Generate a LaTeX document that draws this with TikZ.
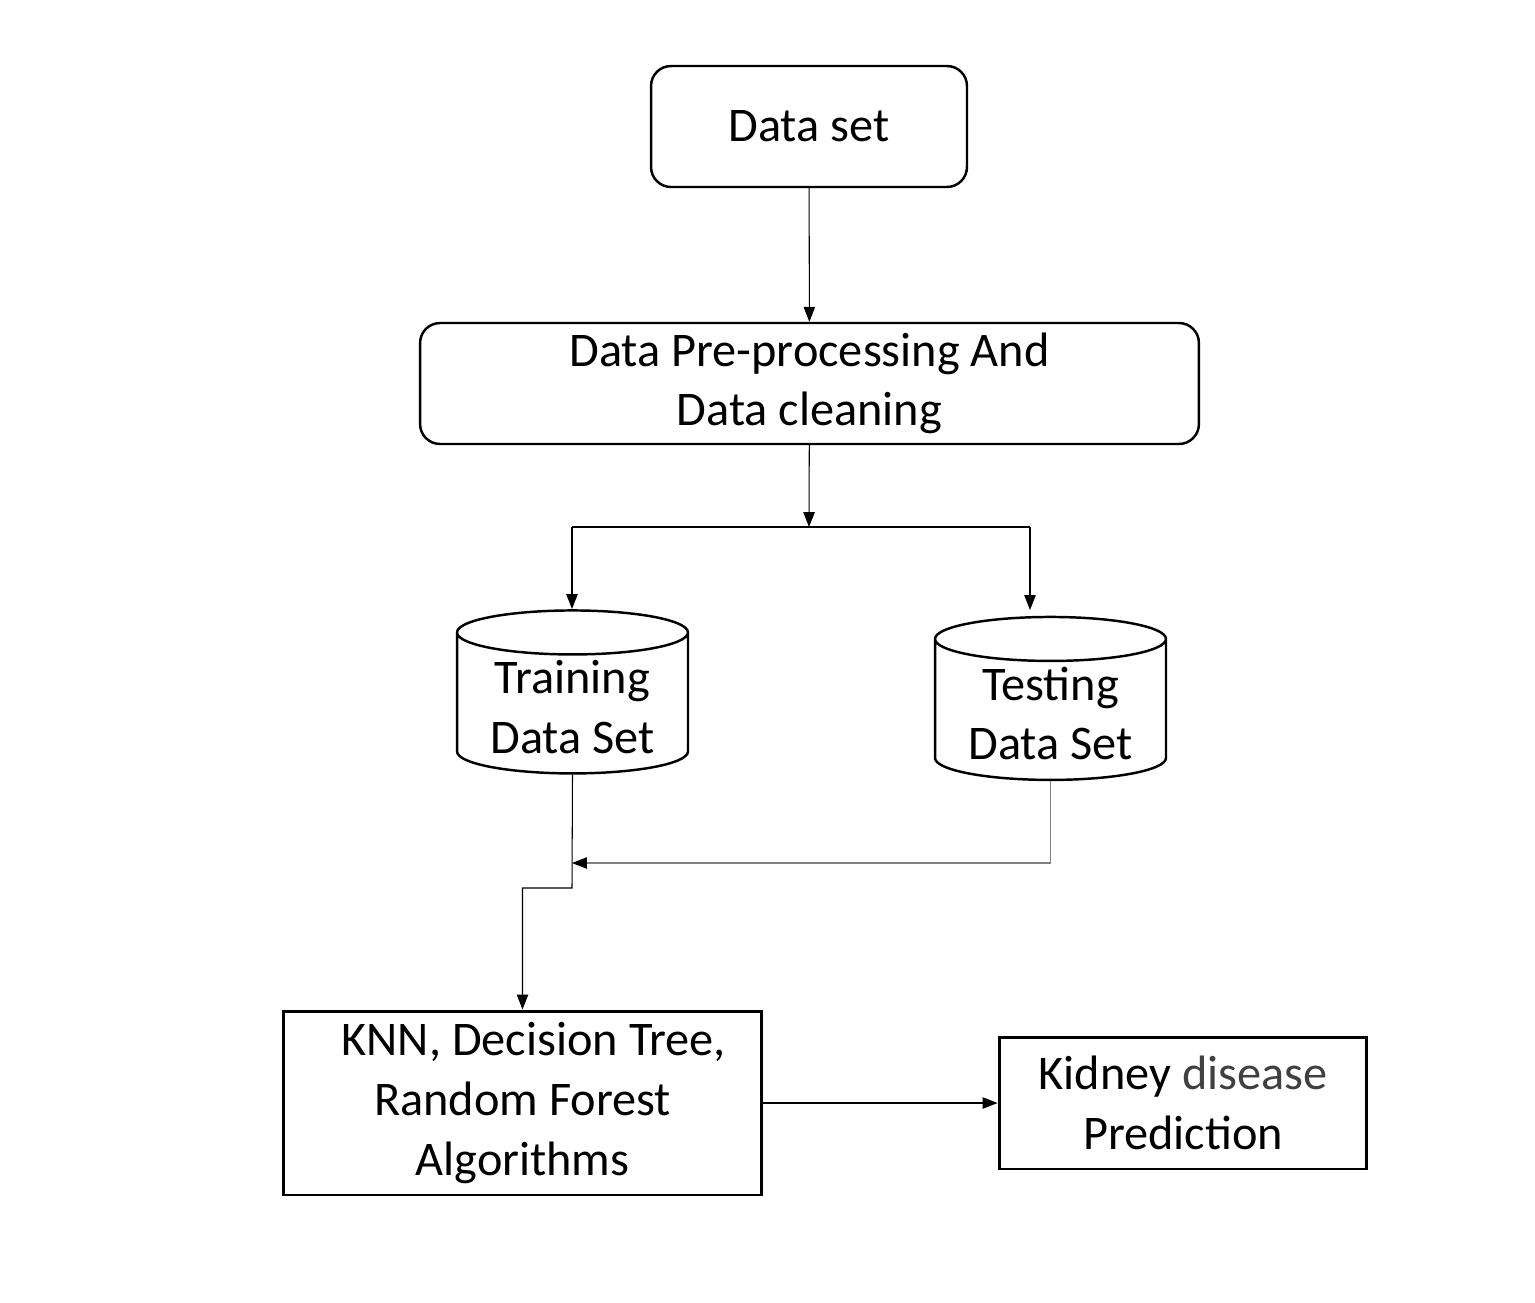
\documentclass[tikz,border=0pt]{standalone}
\usepackage{fontspec}
\setmainfont{Carlito}
\usetikzlibrary{shapes.geometric,arrows.meta}
\definecolor{softblack}{HTML}{404040}
\begin{document}
\begin{tikzpicture}[x=0.02cm,y=-0.02cm,
  font=\fontsize{27.5}{34}\selectfont,
  roundbox/.style={draw,line width=1.4pt,rounded corners=0.4cm,align=center},
  plainbox/.style={draw,line width=1.7pt,align=center},
  datastore/.style={draw,line width=1.4pt,cylinder,shape border rotate=90,aspect=0.25,
    inner ysep=0pt,minimum width=4.62cm,minimum height=3.26cm,align=center},
  conn/.style={line width=0.6pt,-{Triangle[length=8.5pt,width=6.5pt]}},
  grayconn/.style={line width=0.6pt,gray,-{Triangle[length=8.5pt,width=6.5pt,black]}}]
\useasboundingbox (0,0) rectangle (1535,1302);
\node[roundbox,minimum width=6.32cm,minimum height=2.42cm] (dataset) at (809,126.5) {Data set};
\node[roundbox,minimum width=15.58cm,minimum height=2.42cm] (prep) at (809.5,383.5) {Data Pre-processing And\\Data cleaning};
\node[datastore] (train) at (572.5,707) {Training\\Data Set};
\node[datastore] (test) at (1050.5,713.5) {Testing\\Data Set};
\node[plainbox,minimum width=9.58cm,minimum height=3.68cm] (algo) at (522.5,1103) {\hspace*{0.45cm}KNN, Decision Tree,\\Random Forest\\Algorithms};
\node[plainbox,minimum width=7.36cm,minimum height=2.64cm] (kidney) at (1183,1103) {Kidney \textcolor{softblack}{disease}\\Prediction};
% split and merge points
\coordinate (split) at (809,527);
\coordinate (lsplit) at (572,527);
\coordinate (rsplit) at (1030,527);
\coordinate (merge) at (572,863);
\draw[conn] (dataset) -- (prep);
\draw[conn] (prep) -- (split);
\draw[line width=0.6pt] (lsplit) -- (rsplit);
\draw[conn] (lsplit) -- ++(0,82);
\draw[conn] (rsplit) -- ++(0,83);
\draw[conn] (train.south) -- (572,888) -| (algo.north);
\draw[grayconn] (test.south) |- (merge);
\draw[conn] (algo) -- (kidney);
\end{tikzpicture}
\end{document}
